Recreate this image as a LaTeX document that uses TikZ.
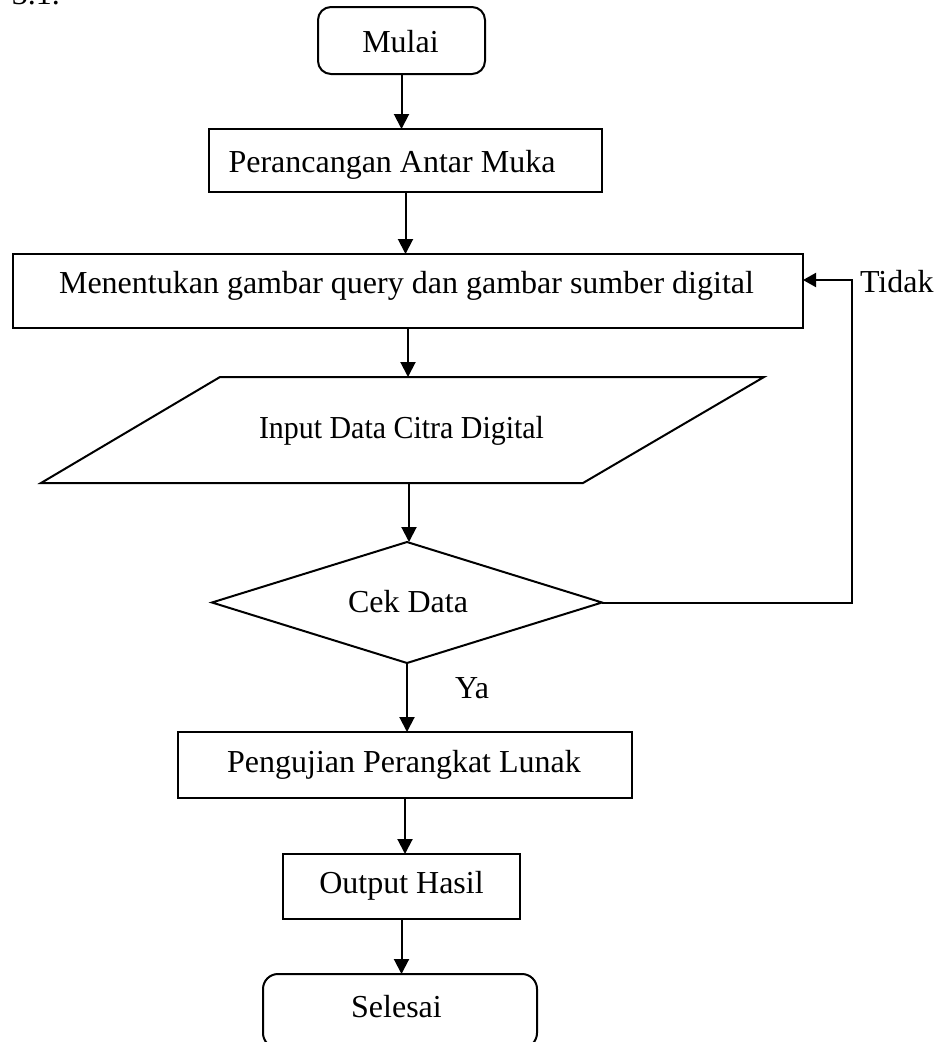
\documentclass[tikz,border=0pt]{standalone}
\usepackage{fontspec}
\setmainfont{Liberation Serif}
\usetikzlibrary{shapes.geometric,arrows.meta}
\begin{document}
\begin{tikzpicture}[x=1pt,y=-1pt,
  line width=2pt,
  every node/.style={font=\fontsize{32}{38}\selectfont, inner sep=0pt, outer sep=0pt},
  termbox/.style={draw, rectangle, rounded corners=13pt},
  procbox/.style={draw, rectangle},
  decbox/.style={draw, diamond},
  txt/.style={anchor=base},
  arr/.style={-{Triangle[length=15pt,width=15pt]}},
  backarr/.style={-{Triangle[length=13pt,width=14pt]}}
]
\useasboundingbox (0,0) rectangle (941,1042);
\clip (0,0) rectangle (941,1042);

% caption number above the chart
\node[anchor=base west] (num) at (12,4) {3.1.};

% shapes
\node[termbox, minimum width=167pt, minimum height=67pt] (mulai) at (401.5,40.5) {};
\node[procbox, minimum width=393pt, minimum height=63pt] (peran) at (405.5,160.5) {};
\node[procbox, minimum width=790pt, minimum height=74pt] (menen) at (408,291) {};
\coordinate (inTL) at (220,377);
\coordinate (inTR) at (764,377);
\coordinate (inBR) at (583,483);
\coordinate (inBL) at (41,483);
\draw[line join=miter] (inTL) -- (inTR) -- (inBR) -- (inBL) -- cycle;
\coordinate (inTop) at (408,377);
\coordinate (inBot) at (409,484);
\node[decbox, minimum width=390pt, minimum height=121pt] (cek) at (407,602.5) {};
\node[procbox, minimum width=454pt, minimum height=66pt] (uji) at (405,765) {};
\node[procbox, minimum width=237pt, minimum height=65pt] (out) at (401.5,886.5) {};
\node[termbox, rounded corners=15pt, minimum width=274pt, minimum height=74pt] (sel) at (400,1011) {};

% texts
\node[txt] (tmulai) at (400.5,52) {Mulai};
\node[txt] (tperan) at (392,172) {Perancangan Antar Muka};
\node[txt] (tmenen) at (406.5,293) {Menentukan gambar query dan gambar sumber digital};
\node[txt] (input) at (401.5,438) {\scalebox{0.935}[1]{Input Data Citra Digital}};
\node[txt] (tcek) at (408,612) {Cek Data};
\node[txt] (tuji) at (404,772) {Pengujian Perangkat Lunak};
\node[txt] (tout) at (401.5,893) {Output Hasil};
\node[txt] (tsel) at (396.5,1017) {Selesai};
\node[anchor=base west] (ya) at (455,698) {Ya};
\node[anchor=base west] (tidak) at (860,292) {Tidak};

% connectors
\draw[arr] (mulai.south) -- (mulai.south |- peran.north);
\draw[arr] (peran.south) -- (peran.south |- menen.north);
\draw[arr] (menen.south) -- (inTop);
\draw[arr] (inBot) -- (inBot |- cek.north);
\draw[arr] (cek.south) -- (cek.south |- uji.north);
\draw[arr] (uji.south) -- (uji.south |- out.north);
\draw[arr] (out.south) -- (out.south |- sel.north);
\coordinate (loopTop) at (852,280);
\draw[backarr] (cek.east) -| (loopTop) -- (menen.east |- loopTop);
\end{tikzpicture}
\end{document}
